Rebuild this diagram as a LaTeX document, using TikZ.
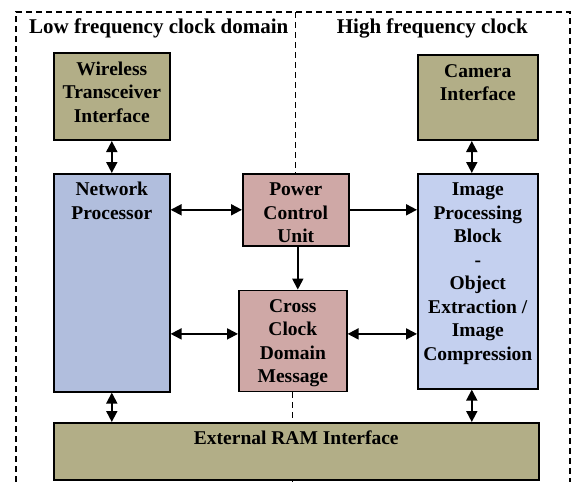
\documentclass[tikz,border=0pt]{standalone}
\usepackage{fontspec}
\setmainfont{Liberation Serif}
\usetikzlibrary{arrows.meta,positioning}
\definecolor{ramolive}{RGB}{178,174,135}
\definecolor{npblue}{RGB}{177,190,221}
\definecolor{ipbblue}{RGB}{196,208,239}
\definecolor{pcupink}{RGB}{207,168,166}
\newcommand{\blktext}[1]{\begin{tabular}[t]{@{}c@{}}#1\end{tabular}}
\tikzset{
  blk/.style={draw=black, line width=1.6pt, inner sep=4pt, text height=18pt,
    font=\bfseries\fontsize{19.5pt}{23.5pt}\selectfont},
  clktitle/.style={inner sep=0pt, font=\bfseries\fontsize{21pt}{25pt}\selectfont},
  dbl/.style={{Triangle[length=11pt,width=11pt]}-{Triangle[length=11pt,width=11pt]}, line width=1.8pt},
  sgl/.style={-{Triangle[length=11pt,width=11pt]}, line width=1.8pt},
  clkline/.style={dash pattern=on 6pt off 4pt, line width=1.2pt}
}
\begin{document}
\begin{tikzpicture}[x=1pt,y=-1pt]
\useasboundingbox (0,0) rectangle (574,482);
\node[clktitle, anchor=base west] (lowtitle) at (29,33) {Low frequency clock domain};
\node[clktitle, anchor=base east] (hightitle) at (528,33) {High frequency clock};
\node[blk, fill=npblue, minimum width=116pt, text depth=192pt, anchor=north west] (np) at (53,173) {\blktext{Network\\Processor}};
\node[blk, fill=ramolive, minimum width=116pt, text depth=61pt, above=32pt of np] (wti) {\blktext{Wireless\\Transceiver\\Interface}};
\node[blk, fill=pcupink, minimum width=106pt, text depth=46pt, anchor=north west] (pcu) at (242,173) {\blktext{Power\\Control\\Unit}};
\node[blk, fill=pcupink, minimum width=108pt, text depth=75pt, below=43pt of pcu, xshift=-3pt] (ccdm) {\blktext{Cross\\Clock\\Domain\\Message}};
\node[blk, fill=ipbblue, minimum width=120pt, text depth=189pt, anchor=north west] (ipb) at (417,173) {\blktext{Image\\Processing\\Block\\-\\Object\\Extraction /\\Image\\Compression}};
\node[blk, fill=ramolive, minimum width=120pt, text depth=59pt, above=32pt of ipb] (cam) {\blktext{Camera\\Interface}};
\node[blk, fill=ramolive, minimum width=485pt, text depth=31pt, anchor=north west] (ram) at (53,422) {External RAM Interface};
\coordinate (camx) at ([xshift=-6pt]cam.south);
\coordinate (ipbx) at ([xshift=-6pt]ipb.south);
\coordinate (pcux) at ([xshift=2pt]pcu.south);
\coordinate (ccdmy) at ([yshift=7pt]ccdm.west);
\draw[dbl] (wti) -- (np);
\draw[dbl] (camx) -- (camx |- ipb.north);
\draw[dbl] (pcu.west) -- (np.east |- pcu.west);
\draw[sgl] (pcu.east) -- (ipb.west |- pcu.east);
\draw[sgl] (pcux) -- (pcux |- ccdm.north);
\draw[dbl] (ccdmy) -- (np.east |- ccdmy);
\draw[dbl] (ccdmy -| ccdm.east) -- (ccdmy -| ipb.west);
\draw[dbl] (np.south) -- (np.south |- ram.north);
\draw[dbl] (ipbx) -- (ipbx |- ram.north);
\draw[clkline] (16,482) -- (16,12) -- (570,12) -- (570,482);
\draw[clkline] (pcu.north |- 0,12) -- (pcu.north);
\draw[clkline] (ccdm.south) -- (ccdm.south |- ram.north);
\draw[clkline] (ccdm.south |- ram.south) -- (ccdm.south |- 0,482);
\end{tikzpicture}
\end{document}
